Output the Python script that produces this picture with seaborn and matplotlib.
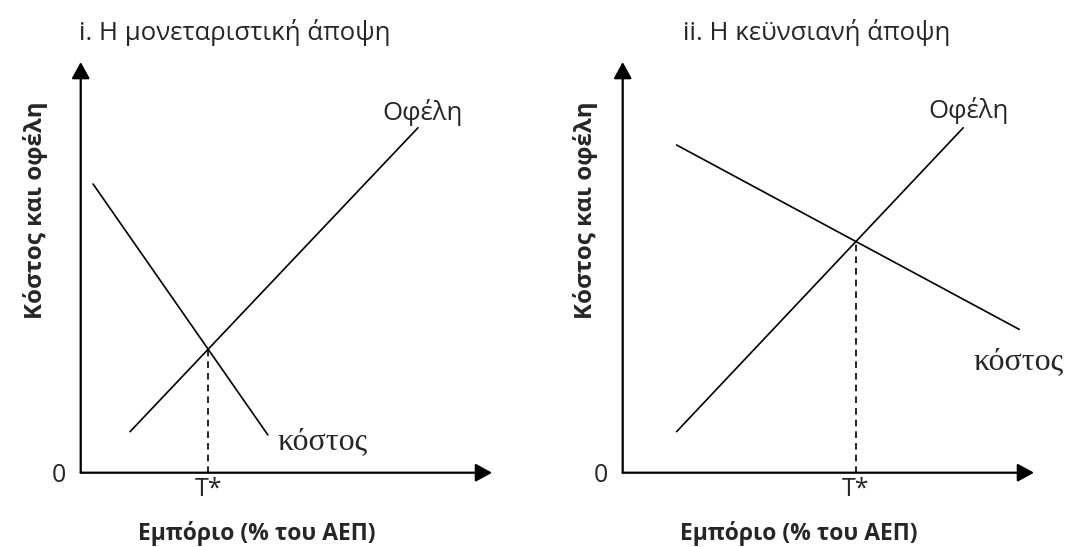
import numpy as np
import pandas as pd
import matplotlib.pyplot as plt
import seaborn as sns

sns.set_theme(style='white')
plt.rcParams['font.family'] = ['Open Sans', 'DejaVu Sans']

# Curve end points, axis units 0-100
mon_benefit_x = [12.0, 82.0]
mon_benefit_y = [10.0, 84.0]
mon_cost_x = [3.0, 45.5]
mon_cost_y = [70.3, 9.2]

key_benefit_x = [13.1, 82.8]
key_benefit_y = [10.0, 84.0]
key_cost_x = [13.1, 96.4]
key_cost_y = [79.8, 34.9]

titles = ['i. Η μονεταριστική άποψη', 'ii. Η κεϋνσιανή άποψη']
ylab = 'Κόστος και οφέλη'
xlab = 'Εμπόριο (% του ΑΕΠ)'


def crossing(bx, by, cx, cy):
    b = np.polyfit(bx, by, 1)
    c = np.polyfit(cx, cy, 1)
    x = (c[1] - b[1]) / (b[0] - c[0])
    return x, np.polyval(b, x)


def panel(ax, bx, by, cx, cy, title, benefit_pos, cost_pos, title_x):
    ax.set_xlim(0, 100)
    ax.set_ylim(0, 100)
    ax.axis('off')

    df = pd.DataFrame({
        'x': bx + cx,
        'y': by + cy,
        'curve': ['Οφέλη'] * 2 + ['κόστος'] * 2,
    })
    sns.lineplot(data=df, x='x', y='y', units='curve', estimator=None,
                 sort=False, color='black', lw=1.2, ax=ax, legend=False)

    tx, ty = crossing(bx, by, cx, cy)
    ax.plot([tx, tx], [0, ty], color='black', lw=1.2, ls=(0, (4, 3)))

    # arrow axes
    arrow = dict(arrowstyle='-|>,head_length=1.0,head_width=0.55',
                 lw=1.6, color='black', mutation_scale=10,
                 shrinkA=0, shrinkB=0)
    ax.annotate('', xy=(100, 0), xytext=(0, 0), arrowprops=arrow,
                annotation_clip=False)
    ax.annotate('', xy=(0, 100), xytext=(0, 0), arrowprops=arrow,
                annotation_clip=False)

    ax.text(benefit_pos[0], benefit_pos[1], 'Οφέλη', fontsize=18.5,
            ha='center', va='center')
    ax.text(cost_pos[0], cost_pos[1], 'κόστος', fontsize=23,
            family='Liberation Serif', ha='left', va='center')
    ax.text(tx, -4.0, 'T*', fontsize=18, ha='center', va='center')
    ax.text(-5.4, -0.6, '0', fontsize=18, ha='center', va='center')
    ax.text(title_x, 107.3, title, fontsize=18.5, ha='center', va='center')
    ax.text(42.9, -14.7, xlab, fontsize=16.5, fontweight='bold',
            ha='center', va='center')


fig = plt.figure(figsize=(10.65, 5.47), dpi=100)
ax1 = fig.add_axes([0.0758, 0.1358, 0.3862, 0.7508])
ax2 = fig.add_axes([0.5847, 0.1358, 0.3862, 0.7508])

panel(ax1, mon_benefit_x, mon_benefit_y, mon_cost_x, mon_cost_y,
      titles[0], (83.2, 87.8), (47.7, 7.5), 37.4)
panel(ax2, key_benefit_x, key_benefit_y, key_cost_x, key_cost_y,
      titles[1], (84.2, 88.3), (85.2, 27.0), 47.1)

ax1.text(-10.9, 64, ylab, fontsize=17.4, fontweight='bold', rotation=90,
         ha='center', va='center')
ax2.text(-9.0, 64, ylab, fontsize=17.4, fontweight='bold', rotation=90,
         ha='center', va='center')

fig.savefig('out.png', dpi=100, facecolor='white')
